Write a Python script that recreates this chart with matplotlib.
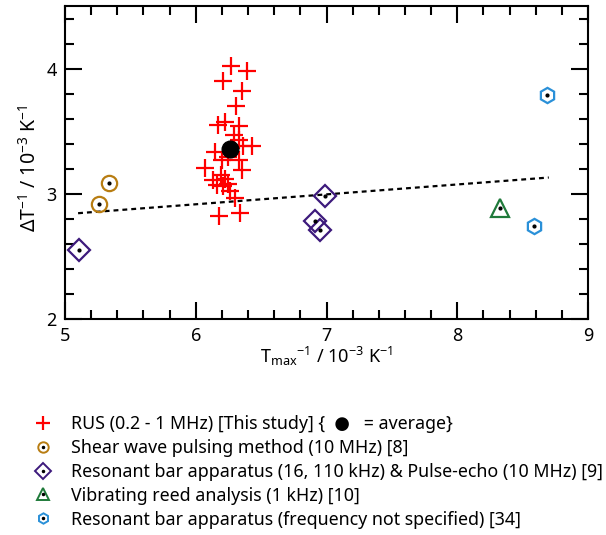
import matplotlib
matplotlib.use("Agg")
import matplotlib.pyplot as plt
from matplotlib.lines import Line2D
from matplotlib.legend_handler import HandlerTuple
from matplotlib.ticker import MultipleLocator

plt.rcParams['font.family'] = ['Noto Sans', 'DejaVu Sans']
plt.rcParams['mathtext.fontset'] = 'custom'
plt.rcParams['mathtext.rm'] = 'Noto Sans'
plt.rcParams['mathtext.it'] = 'Noto Sans'

# ---- data ----
rus_x = [6.27, 6.39, 6.21, 6.35, 6.31, 6.17, 6.22, 6.33, 6.29, 6.33, 6.43, 6.36,
         6.15, 6.20, 6.25, 6.33, 6.07, 6.35, 6.19, 6.13, 6.22, 6.25, 6.16, 6.21,
         6.26, 6.30, 6.18, 6.34]
rus_y = [4.02, 3.98, 3.90, 3.82, 3.70, 3.55, 3.57, 3.54, 3.47, 3.43, 3.38, 3.38,
         3.33, 3.27, 3.29, 3.27, 3.21, 3.19, 3.15, 3.11, 3.12, 3.08, 3.07, 3.06,
         3.02, 2.97, 2.82, 2.85]
avg_x = [6.26]
avg_y = [3.36]
shear_x = [5.34, 5.26]
shear_y = [3.09, 2.92]
resbar_x = [5.11, 6.99, 6.91, 6.95]
resbar_y = [2.55, 2.98, 2.78, 2.71]
reed_x = [8.33]
reed_y = [2.89]
res34_x = [8.69, 8.59]
res34_y = [3.79, 2.74]
trend_x = [5.10, 8.70]
trend_y = [2.845, 3.13]

labels = [
    "RUS (0.2 - 1 MHz) [This study] {  \u25CF   = average}",
    "Shear wave pulsing method (10 MHz) [8]",
    "Resonant bar apparatus (16, 110 kHz) & Pulse-echo (10 MHz) [9]",
    "Vibrating reed analysis (1 kHz) [10]",
    "Resonant bar apparatus (frequency not specified) [34]",
]

c_red = '#ff0000'
c_brown = '#b87d12'
c_purple = '#3d1a7c'
c_green = '#1f7a3a'
c_blue = '#2a90d8'

fig = plt.figure(figsize=(6.06, 5.35), dpi=100)
ax = fig.add_axes([65/606, 1-319/535, (588-65)/606, (319-6)/535])

ax.plot(trend_x, trend_y, color='black', lw=1.6, linestyle=(0, (2.2, 1.8)), zorder=1)

ax.plot(rus_x, rus_y, linestyle='none', marker='+', ms=13, mew=1.6, color=c_red, zorder=3)
ax.plot(avg_x, avg_y, linestyle='none', marker='o', ms=12, color='black', zorder=4)

def ring(x, y, marker, ms, color):
    ax.plot(x, y, linestyle='none', marker=marker, ms=ms, mfc='none', mec=color, mew=1.6, zorder=3)
    ax.plot(x, y, linestyle='none', marker='o', ms=2, color='black', zorder=3)

ring(shear_x, shear_y, 'o', 11, c_brown)
ring(resbar_x, resbar_y, 'D', 11.5, c_purple)
ring(reed_x, reed_y, '^', 13, c_green)
ring(res34_x, res34_y, 'h', 11, c_blue)

ax.set_xlim(5, 9)
ax.set_ylim(2, 4.5)
ax.xaxis.set_major_locator(MultipleLocator(1))
ax.xaxis.set_minor_locator(MultipleLocator(0.2))
ax.yaxis.set_major_locator(MultipleLocator(1))
ax.yaxis.set_minor_locator(MultipleLocator(0.2))
ax.tick_params(which='both', direction='in', top=True, right=True, width=1.5)
ax.tick_params(which='major', length=12, labelsize=13, pad=6)
ax.tick_params(which='minor', length=6.5)
for s in ax.spines.values():
    s.set_linewidth(1.5)

ax.set_xlabel(r'T$_{\mathregular{max}}$$^{\mathregular{-1}}$ / 10$^{\mathregular{-3}}$ K$^{\mathregular{-1}}$', fontsize=13, labelpad=0)
ax.set_ylabel(r'$\Delta$T$^{\mathregular{-1}}$ / 10$^{\mathregular{-3}}$ K$^{\mathregular{-1}}$', fontsize=14)
ax.yaxis.set_label_coords(-0.046, 0.482)

def lh(marker, ms, color):
    outer = Line2D([], [], linestyle='none', marker=marker, ms=ms, mfc='none', mec=color, mew=1.4)
    dot = Line2D([], [], linestyle='none', marker='o', ms=1.5, color='black')
    return (outer, dot)

handles = [
    Line2D([], [], linestyle='none', marker='+', ms=10, mew=1.6, color=c_red),
    lh('o', 7.5, c_brown),
    lh('D', 8, c_purple),
    lh('^', 8.5, c_green),
    lh('h', 7.5, c_blue),
]
fig.legend(handles, labels, loc='upper left', bbox_to_anchor=(27/606, 1-408/535),
           frameon=False, fontsize=12.8, handler_map={tuple: HandlerTuple(ndivide=1)},
           handlelength=1.0, handletextpad=1.07, labelspacing=0.33, borderaxespad=0)

fig.savefig('out.png', dpi=100)
